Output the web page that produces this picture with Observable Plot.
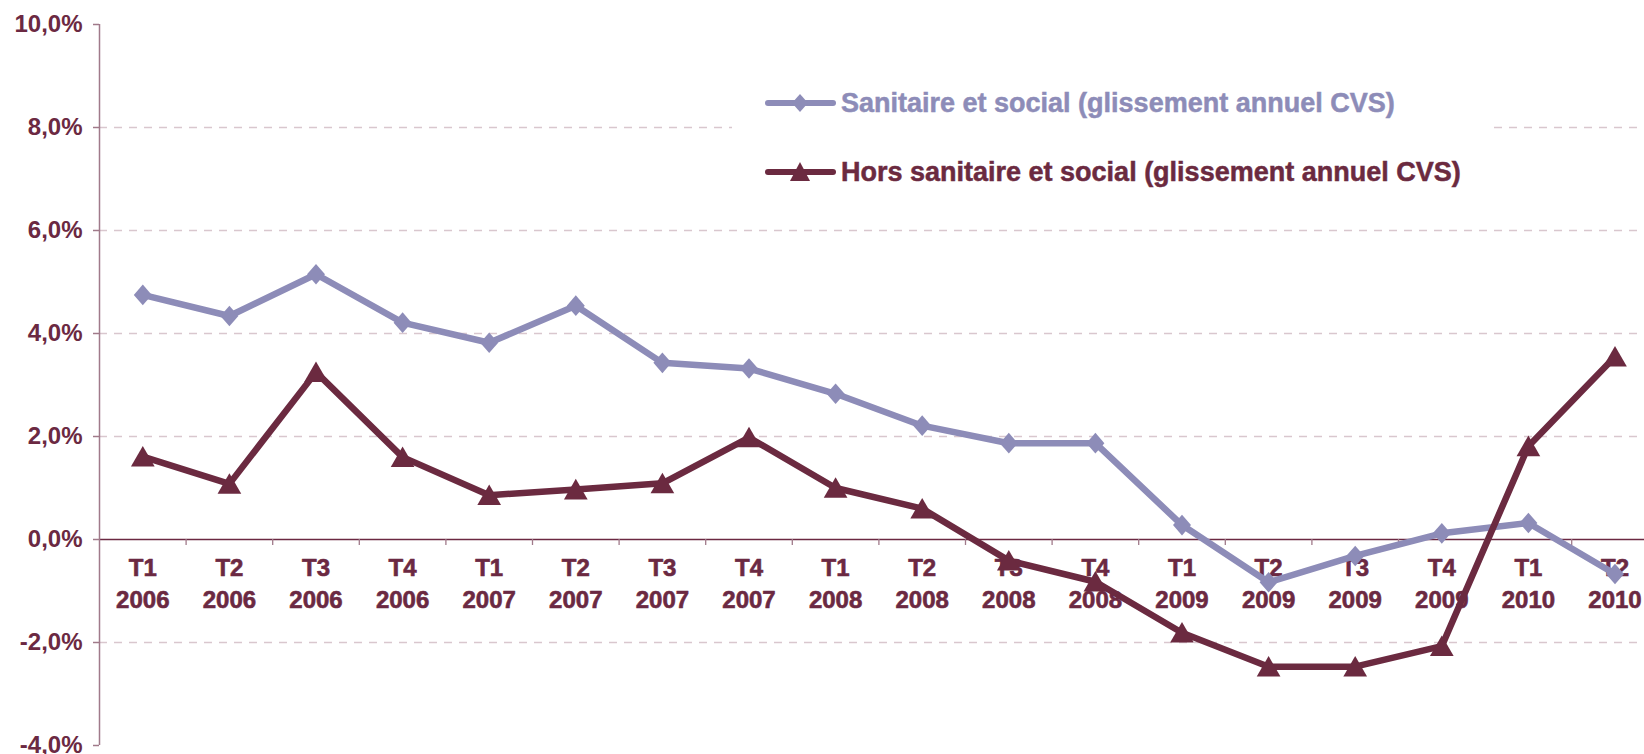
<!DOCTYPE html>
<html>
<head>
<meta charset="utf-8">
<script src="https://cdn.jsdelivr.net/npm/d3@7"></script>
<script src="https://cdn.jsdelivr.net/npm/@observablehq/plot@0.6"></script>
<style>
  html, body { margin: 0; padding: 0; background: #fff; }
  #wrap { position: relative; width: 1644px; height: 754px; overflow: hidden; font-family: "Liberation Sans", Arial, sans-serif; }
  #legend { position: absolute; left: 732px; top: 76px; width: 755px; height: 124px; background: #fff; }
  .lg-row { position: absolute; left: 0; height: 34px; display: flex; align-items: center; }
  .lg-row span { font-size: 27px; font-weight: bold; white-space: nowrap; margin-left: 4px; -webkit-text-stroke: 0.5px currentColor; }
</style>
</head>
<body>
<div id="wrap"></div>
<script>
// ---- data ----
const quarters = ["T1","T2","T3","T4","T1","T2","T3","T4","T1","T2","T3","T4","T1","T2","T3","T4","T1","T2"];
const years    = ["2006","2006","2006","2006","2007","2007","2007","2007","2008","2008","2008","2008","2009","2009","2009","2009","2010","2010"];
const sanitaire = [4.75, 4.34, 5.15, 4.21, 3.82, 4.54, 3.43, 3.32, 2.83, 2.21, 1.87, 1.87, 0.28, -0.83, -0.32, 0.12, 0.32, -0.67];
const hors      = [1.61, 1.08, 3.25, 1.60, 0.86, 0.97, 1.09, 1.98, 1.00, 0.60, -0.41, -0.82, -1.81, -2.47, -2.47, -2.07, 1.81, 3.55];
const yTicks = [-4, -2, 0, 2, 4, 6, 8, 10];
const gridTicks = [-2, 2, 4, 6, 8];
const seriesNames = ["Sanitaire et social (glissement annuel CVS)", "Hors sanitaire et social (glissement annuel CVS)"];

// ---- styles ----
const colSan = "#8D8CB8";
const colHors = "#6B2A40";
const textCol = "#6B2942";
const axisCol = "#A07A8A";
const gridCol = "#D9C7CE";

const W = 1644, H = 754;
const mLeft = 99, mTop = 24, mBottom = 9;
const step = 86.6;

const cats = quarters.map((q, i) => ({i, label: q + "\n" + years[i]}));
const dataSan = sanitaire.map((v, i) => ({i, v}));
const dataHors = hors.map((v, i) => ({i, v}));
const bounds = d3.range(1, quarters.length + 1);

const fmt = d => d.toFixed(1).replace(".", ",") + "%";

// Excel-like diamond (slightly taller than wide)
const excelDiamond = {
  draw(ctx, size) {
    const r = Math.sqrt(size / Math.PI);
    const h = r * 1.15;
    ctx.moveTo(0, -h); ctx.lineTo(r, 0); ctx.lineTo(0, h); ctx.lineTo(-r, 0); ctx.closePath();
  }
};

const chart = Plot.plot({
  width: W,
  height: H,
  marginLeft: mLeft,
  marginRight: 0,
  marginTop: mTop,
  marginBottom: mBottom,
  style: {fontFamily: "'Liberation Sans', Arial, sans-serif", fontWeight: "bold", background: "#fff"},
  x: {type: "linear", domain: [0, quarters.length], range: [mLeft, mLeft + step * quarters.length], axis: null},
  y: {domain: [-4, 10]},
  marks: [
    Plot.ruleY(gridTicks, {stroke: gridCol, strokeWidth: 1.3, strokeDasharray: "8,7"}),
    Plot.ruleY([0], {stroke: textCol, strokeWidth: 1.5}),
    Plot.ruleX(bounds, {y1: 0, y2: 0, insetBottom: -6, stroke: axisCol, strokeWidth: 1.3}),
    Plot.ruleY(yTicks, {x1: 0, x2: 0, insetLeft: -6, stroke: axisCol, strokeWidth: 1.5}),
    Plot.ruleX([0], {y1: -4, y2: 10, stroke: axisCol, strokeWidth: 1.5}),
    Plot.axisY({ticks: yTicks, label: null, tickFormat: fmt, tickSize: 0, tickPadding: 17, fontSize: 24, fontWeight: "bold", fill: textCol, stroke: textCol, strokeWidth: 0.6}),
    Plot.text(cats, {x: d => d.i + 0.5, y: 0, text: "label", lineAnchor: "top", dy: 14, lineHeight: 1.34, fontSize: 24, fontWeight: "bold", fill: textCol, stroke: textCol, strokeWidth: 0.6}),
    Plot.line(dataSan, {x: d => d.i + 0.5, y: "v", stroke: colSan, strokeWidth: 6.5, strokeLinejoin: "round"}),
    Plot.dot(dataSan, {x: d => d.i + 0.5, y: "v", symbol: excelDiamond, r: 9, fill: colSan, stroke: "none"}),
    Plot.line(dataHors, {x: d => d.i + 0.5, y: "v", stroke: colHors, strokeWidth: 6.5, strokeLinejoin: "round"}),
    Plot.dot(dataHors, {x: d => d.i + 0.5, y: "v", symbol: "triangle", r: 8.8, dy: 3, fill: colHors, stroke: "none"})
  ]
});

const wrap = document.getElementById("wrap");
wrap.appendChild(chart);

// ---- legend ----
const legend = document.createElement("div");
legend.id = "legend";
const rows = [
  {name: seriesNames[0], color: colSan, sym: "diamond", top: 10},
  {name: seriesNames[1], color: colHors, sym: "triangle", top: 79}
];
rows.forEach(r => {
  const row = document.createElement("div");
  row.className = "lg-row";
  row.style.top = r.top + "px";
  row.style.left = "33px";
  const marker = r.sym === "diamond"
    ? `<path d="M35,8 L43,17 L35,26 L27,17 Z" fill="${r.color}"/>`
    : `<path d="M35,7 L45,26 L25,26 Z" fill="${r.color}"/>`;
  row.innerHTML = `<svg width="72" height="34" style="display:block"><line x1="3" y1="17" x2="68" y2="17" stroke="${r.color}" stroke-width="6" stroke-linecap="round"/>${marker}</svg><span style="color:${r.color}">${r.name}</span>`;
  legend.appendChild(row);
});
wrap.appendChild(legend);
</script>
</body>
</html>
